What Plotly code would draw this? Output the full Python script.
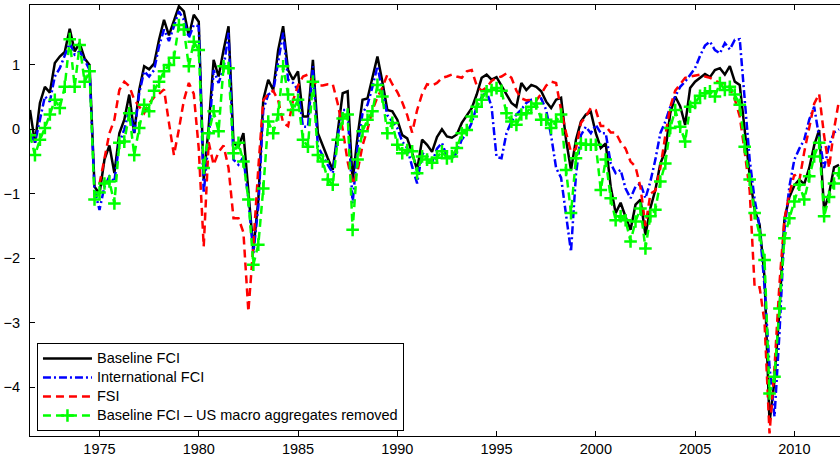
import numpy as np
import plotly.graph_objects as go

# Quarterly observations, 1971Q3 .. 2012Q2 (decimal years)
quarters = np.arange(1971.5, 2012.5, 0.25)

baseline_fci = [
    0.30, -0.21, 0.41, 0.66, 0.57, 1.03, 1.13, 1.20, 1.56, 1.21,
    1.34, 1.10, 1.00, -0.89, -1.00, -0.47, -0.25, -0.68, -0.06, 0.15,
    0.54, -0.06, 0.61, 0.98, 0.93, 1.02, 1.39, 1.70, 1.46, 1.67,
    1.91, 1.83, 1.45, 1.78, 1.67, -0.78, 0.04, 1.08, 0.82, 1.23,
    1.60, -0.21, -0.27, -0.06, -0.99, -1.87, -1.10, 0.46, 0.77, 0.61,
    1.23, 1.60, 0.92, 0.77, 0.90, 0.20, 0.20, 1.08, -0.06, -0.27,
    -0.45, -0.63, 0.00, 0.56, 0.59, -0.81, -0.11, 0.46, 0.48, 0.82,
    1.13, 0.74, 0.30, 0.28, 0.15, -0.09, -0.14, -0.37, -0.63, -0.16,
    -0.24, -0.35, -0.12, 0.00, -0.11, -0.13, -0.08, 0.10, 0.22, 0.33,
    0.54, 0.80, 0.85, 0.77, 0.81, 0.67, 0.54, 0.41, 0.35, 0.72,
    0.61, 0.69, 0.66, 0.59, 0.43, 0.33, 0.46, 0.49, -0.16, -0.63,
    -0.16, 0.12, 0.23, 0.27, -0.06, -0.29, -0.22, -0.89, -1.30, -1.14,
    -1.36, -1.56, -1.17, -1.09, -1.64, -1.22, -0.94, -0.53, -0.34, 0.25,
    0.51, 0.36, 0.07, 0.64, 0.74, 0.80, 0.86, 0.81, 0.92, 0.95,
    0.85, 0.98, 0.74, 0.69, -0.01, -0.71, -1.25, -1.48, -2.30, -4.55,
    -3.90, -2.80, -1.40, -1.05, -0.87, -0.78, -0.85, -0.60, -0.25, -0.01,
    -1.25, -1.00, -0.59, -0.55,
]

international_fci = [
    -0.06, -0.21, 0.15, 0.51, 0.43, 0.82, 0.95, 1.13, 1.34, 1.16,
    1.21, 1.08, 0.92, -0.94, -1.25, -0.89, -0.73, -0.81, -0.21, 0.00,
    0.30, -0.06, 0.56, 0.90, 0.82, 0.92, 1.29, 1.55, 1.37, 1.60,
    1.83, 1.70, 1.42, 1.62, 1.60, -0.99, -0.16, 0.92, 0.72, 0.95,
    1.50, -0.47, -0.55, -0.43, -1.09, -1.92, -1.20, 0.30, 0.54, 0.59,
    1.03, 1.50, 0.77, 0.72, 0.61, 0.04, 0.04, 0.98, -0.27, -0.42,
    -0.55, -0.68, -0.11, 0.30, 0.30, -1.15, -0.27, 0.25, 0.38, 0.66,
    0.98, 0.59, 0.22, 0.12, 0.02, -0.19, -0.29, -0.58, -0.84, -0.37,
    -0.42, -0.52, -0.30, -0.21, -0.42, -0.46, -0.36, -0.16, -0.06, 0.10,
    0.35, 0.50, 0.59, 0.35, -0.43, -0.45, -0.06, 0.12, 0.23, 0.31,
    0.41, 0.46, 0.46, 0.48, 0.30, -0.10, -0.60, -0.75, -1.30, -1.90,
    -0.70, -0.09, 0.04, -0.06, 0.07, -0.06, -0.06, -0.53, -0.68, -0.63,
    -0.92, -1.07, -0.89, -0.84, -1.07, -0.81, -0.47, -0.06, 0.12, 0.35,
    0.51, 0.66, 0.74, 0.85, 0.95, 1.14, 1.30, 1.36, 1.23, 1.18,
    1.34, 1.24, 1.39, 1.40, 0.46, -0.47, -1.09, -1.51, -2.44, -3.68,
    -4.46, -3.17, -1.56, -0.89, -0.47, -0.30, -0.16, 0.15, 0.35, -0.10,
    -0.60, -0.25, -0.05, 0.00,
]

# FSI is available from 1975Q1 onwards
fsi = [None] * 14 + [
    -0.85, -0.45, -0.06, 0.15, 0.61, 0.74, 0.67, 0.46, 0.35, 0.25,
    0.40, 0.50, 0.55, 0.62, 0.10, -0.40, 0.00, 0.45, 0.72, 0.55,
    -0.30, -1.82, -0.20, -0.55, -0.35, -0.25, -0.60, -1.38, -1.38, -1.60,
    -2.83, -1.80, -0.60, 0.45, 0.55, 0.60, 0.45, 0.10, 0.05, 0.45,
    0.68, 0.82, 0.85, 0.75, 0.68, 0.68, 0.70, 0.70, 0.40, 0.00,
    -0.50, -0.85, -0.65, -0.25, 0.00, 0.30, 0.50, 0.65, 0.85, 0.70,
    0.58, 0.42, 0.22, -0.05, 0.30, 0.55, 0.70, 0.68, 0.72, 0.80,
    0.82, 0.85, 0.82, 0.80, 0.90, 0.92, 0.68, 0.60, 0.65, 0.75,
    0.80, 0.82, 0.87, 0.80, 0.60, 0.48, 0.45, 0.46, 0.45, 0.55,
    0.68, 0.74, 0.72, 0.30, -0.05, -0.35, -0.30, 0.10, 0.20, 0.33,
    0.30, 0.05, 0.05, -0.05, -0.05, -0.20, -0.30, -0.50, -0.58, -0.90,
    -1.50, -1.00, -0.95, -0.60, -0.10, 0.35, 0.60, 0.70, 0.80, 0.82,
    0.84, 0.85, 0.82, 0.80, 0.76, 0.72, 0.70, 0.65, 0.47, 0.20,
    -0.35, -0.95, -2.45, -2.45, -3.00, -4.72, -3.70, -2.40, -1.40, -1.00,
    -0.70, -0.80, -0.35, 0.00, 0.40, 0.55, -0.10, -0.60, 0.00, 0.45,
]

baseline_no_macro = [
    -0.09, -0.40, -0.16, 0.02, 0.23, 0.46, 0.33, 0.66, 1.40, 0.66,
    1.31, 0.74, 0.90, -1.09, -0.98, -0.84, -0.81, -1.15, -0.21, -0.19,
    0.25, -0.40, 0.02, 0.38, 0.28, 0.60, 0.74, 0.90, 1.00, 1.11,
    1.62, 1.55, 0.98, 1.36, 1.23, -0.60, -0.06, 0.28, -0.03, 0.98,
    0.95, -0.37, -0.21, -0.50, -1.09, -2.10, -1.79, -0.92, 0.12, -0.06,
    0.23, 0.98, 0.54, 0.30, 0.46, -0.16, -0.27, 0.74, -0.40, -0.50,
    -0.78, -0.86, -0.16, 0.17, 0.23, -1.56, -0.47, -0.03, 0.15, 0.28,
    0.69, 0.51, -0.06, 0.10, -0.24, -0.37, -0.32, -0.34, -0.68, -0.42,
    -0.47, -0.52, -0.44, -0.34, -0.45, -0.42, -0.29, -0.06, -0.01, 0.20,
    0.35, 0.46, 0.59, 0.61, 0.64, 0.60, 0.25, 0.12, 0.07, 0.23,
    0.25, 0.35, 0.40, 0.15, 0.15, 0.02, 0.12, 0.23, -0.63, -1.30,
    -0.45, -0.22, -0.24, -0.24, -0.24, -0.94, -0.47, -1.07, -1.41, -1.35,
    -1.41, -1.74, -1.43, -1.23, -1.85, -1.35, -1.25, -0.81, -0.53, 0.02,
    0.30, 0.04, -0.19, 0.35, 0.41, 0.52, 0.56, 0.59, 0.51, 0.72,
    0.61, 0.66, 0.54, 0.38, -0.27, -0.78, -1.30, -1.64, -2.03, -4.10,
    -3.84, -2.78, -1.69, -1.38, -1.12, -0.86, -1.09, -0.73, -0.42, -0.21,
    -1.35, -1.05, -0.84, -0.68,
]

series_names = [
    "Baseline FCI",
    "International FCI",
    "FSI",
    "Baseline FCI \u2013 US macro aggregates removed",
]

year_ticks = [1975, 1980, 1985, 1990, 1995, 2000, 2005, 2010]
value_ticks = [-4, -3, -2, -1, 0, 1]


def legend_label(text):
    # larger glyphs inside a compact legend row
    return '<span style="font-size:14.5px">' + text + "</span>"


fig = go.Figure()

fig.add_trace(go.Scatter(
    x=quarters, y=baseline_fci, name=legend_label(series_names[0]), mode="lines",
    line=dict(color="#000000", width=2.5),
))
fig.add_trace(go.Scatter(
    x=quarters, y=international_fci, name=legend_label(series_names[1]), mode="lines",
    line=dict(color="#0000FF", width=2.5, dash="8px,3px,2px,3px"),
))
fig.add_trace(go.Scatter(
    x=quarters, y=fsi, name=legend_label(series_names[2]), mode="lines",
    line=dict(color="#FF0000", width=2.5, dash="8px,5px"),
))
fig.add_trace(go.Scatter(
    x=quarters, y=baseline_no_macro, name=legend_label(series_names[3]),
    mode="lines+markers",
    line=dict(color="#00FF00", width=2.5, dash="8px,5px"),
    marker=dict(symbol="cross-thin", size=9,
                line=dict(color="#00FF00", width=2.5)),
))

fig.update_layout(
    width=840, height=461,
    margin=dict(l=30, r=0, t=5, b=25),
    plot_bgcolor="white", paper_bgcolor="white",
    font=dict(family="Liberation Sans, Arial, sans-serif", size=14, color="black"),
    legend=dict(
        x=0.0086, y=0.0116, xanchor="left", yanchor="bottom",
        bordercolor="black", borderwidth=1, bgcolor="white",
        font=dict(size=11), itemwidth=49, tracegroupgap=0,
    ),
)
fig.update_xaxes(
    range=[1971.5, 2012.3], tickvals=year_ticks,
    ticks="inside", ticklen=5, tickcolor="black",
    showline=True, linecolor="black", linewidth=1, mirror="ticks",
    showgrid=False, zeroline=False,
    tickfont=dict(size=14.5),
)
fig.update_yaxes(
    range=[-4.76, 1.93], tickvals=value_ticks,
    ticks="inside", ticklen=5, tickcolor="black",
    showline=True, linecolor="black", linewidth=1,
    showgrid=False, zeroline=False,
    tickfont=dict(size=14.5), ticklabelstandoff=6,
)

fig.write_html("out.html")
